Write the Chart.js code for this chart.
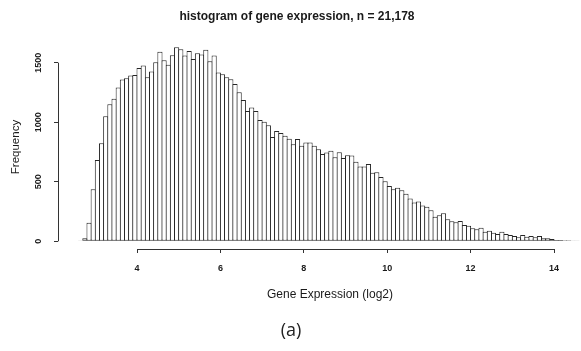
<!DOCTYPE html>
<html>
<head>
<meta charset="utf-8">
<script src="https://cdn.jsdelivr.net/npm/chart.js@4.4.0/dist/chart.umd.min.js"></script>
<style>
    html, body { margin: 0; padding: 0; background: #fff; }
    #wrap { width: 581px; height: 351px; }
</style>
</head>
<body>
<div id="wrap"><canvas id="histCanvas" width="581" height="351"></canvas></div>
<script>
// --- Datos del histograma (bins de 0.1, desde 2.6) ---
const binStart = 2.6;
const binWidth = 0.1;
const frequencies = [
    3, 25, 156, 437, 683, 823, 1050, 1151, 1198, 1291,
    1358, 1370, 1392, 1397, 1456, 1476, 1378, 1425, 1504, 1591,
    1521, 1482, 1563, 1630, 1613, 1560, 1599, 1532, 1580, 1568,
    1608, 1513, 1560, 1417, 1403, 1378, 1361, 1322, 1252, 1187,
    1095, 1123, 1095, 1019, 1005, 975, 875, 927, 910, 887,
    862, 815, 860, 802, 830, 830, 802, 773, 734, 745,
    761, 705, 747, 700, 722, 721, 669, 628, 628, 650,
    575, 580, 540, 505, 465, 437, 450, 428, 400, 360,
    325, 335, 300, 290, 260, 207, 218, 235, 185, 168,
    160, 171, 137, 131, 109, 101, 114, 81, 89, 72,
    61, 81, 61, 53, 45, 34, 53, 39, 45, 34,
    45, 25, 25, 19, 11, 11, 8, 8, 3, 3
];
const xTicks = [4, 6, 8, 10, 12, 14];
const yTicks = [0, 500, 1000, 1500];

const chartTitle = 'histogram of gene expression, n = 21,178';
const xLabel = 'Gene Expression (log2)';
const yLabel = 'Frequency';
const panelLabel = '(a)';

const ink = '#1a1a1a';
const axisColor = '#333';

// cada barra centrada en su bin
const points = frequencies.map((f, i) => ({ x: binStart + binWidth * (i + 0.5), y: f }));

// Ejes al estilo R: la línea sólo va del primer al último tick, y los textos van a mano
const rAxesPlugin = {
    id: 'rAxes',
    afterDraw(chart) {
        const { ctx, chartArea } = chart;
        const xs = chart.scales.x;
        const ys = chart.scales.y;
        const align = v => Math.floor(v) + 0.5;

        ctx.save();
        ctx.strokeStyle = axisColor;
        ctx.lineWidth = 1;

        // línea del eje y
        const yx = align(chartArea.left);
        ctx.beginPath();
        ctx.moveTo(yx, ys.getPixelForValue(yTicks[0]));
        ctx.lineTo(yx, ys.getPixelForValue(yTicks[yTicks.length - 1]));
        ctx.stroke();

        // línea del eje x
        const xy = align(chartArea.bottom);
        ctx.beginPath();
        ctx.moveTo(xs.getPixelForValue(xTicks[0]), xy);
        ctx.lineTo(xs.getPixelForValue(xTicks[xTicks.length - 1]), xy);
        ctx.stroke();

        ctx.fillStyle = ink;
        ctx.textAlign = 'center';
        ctx.textBaseline = 'middle';

        // etiquetas del eje y, rotadas como en R (las = 0)
        ctx.font = 'bold 9px "Liberation Sans", Arial, sans-serif';
        yTicks.forEach(v => {
            ctx.save();
            ctx.translate(39, ys.getPixelForValue(v));
            ctx.rotate(-Math.PI / 2);
            ctx.fillText(String(v), 0, 0);
            ctx.restore();
        });

        // título
        ctx.font = 'bold 12px "Liberation Sans", Arial, sans-serif';
        ctx.fillText(chartTitle, 297, 17);

        // títulos de ejes
        ctx.font = '12px "Liberation Sans", Arial, sans-serif';
        ctx.fillText(xLabel, 330, 295);
        ctx.save();
        ctx.translate(16, 147);
        ctx.rotate(-Math.PI / 2);
        ctx.font = '11.5px "Liberation Sans", Arial, sans-serif';
        ctx.fillText(yLabel, 0, 0);
        ctx.restore();

        // rótulo del panel
        ctx.font = '18px "Open Sans", "Noto Sans", sans-serif';
        ctx.fillStyle = '#222';
        ctx.fillText(panelLabel, 291, 331);

        ctx.restore();
    }
};

const ctx = document.getElementById('histCanvas').getContext('2d');
new Chart(ctx, {
    type: 'bar',
    data: {
        datasets: [{
            label: 'Frequency',
            data: points,
            backgroundColor: '#ffffff',
            borderColor: '#262626',
            borderWidth: 1,
            borderSkipped: false,
            categoryPercentage: 1,
            barPercentage: 1.24, // bordes compartidos entre barras vecinas, como hist() de R
            clip: false
        }]
    },
    options: {
        responsive: false,
        animation: false,
        devicePixelRatio: 1,
        layout: { padding: { top: 40, left: 0, right: 0, bottom: 0 } },
        plugins: {
            legend: { display: false },
            tooltip: { enabled: false },
            title: { display: false }
        },
        scales: {
            x: {
                type: 'linear',
                offset: false,
                min: 2.1055,
                max: 14.647,
                afterBuildTicks: s => { s.ticks = xTicks.map(v => ({ value: v })); },
                afterFit: s => { s.height = 102; },
                border: { display: false },
                grid: { offset: false, drawOnChartArea: false, drawTicks: true, tickLength: 4, color: axisColor },
                ticks: {
                    autoSkip: false,
                    maxRotation: 0,
                    padding: 10,
                    color: ink,
                    font: { family: '"Liberation Sans", Arial, sans-serif', size: 9, weight: 'bold' },
                    callback: v => String(v)
                }
            },
            y: {
                min: -64.7,
                max: 1690.6,
                afterBuildTicks: s => { s.ticks = yTicks.map(v => ({ value: v })); },
                afterFit: s => { s.width = 58; },
                border: { display: false },
                grid: { drawOnChartArea: false, drawTicks: true, tickLength: 4, color: axisColor },
                ticks: { display: false }
            }
        }
    },
    plugins: [rAxesPlugin]
});
</script>
</body>
</html>
